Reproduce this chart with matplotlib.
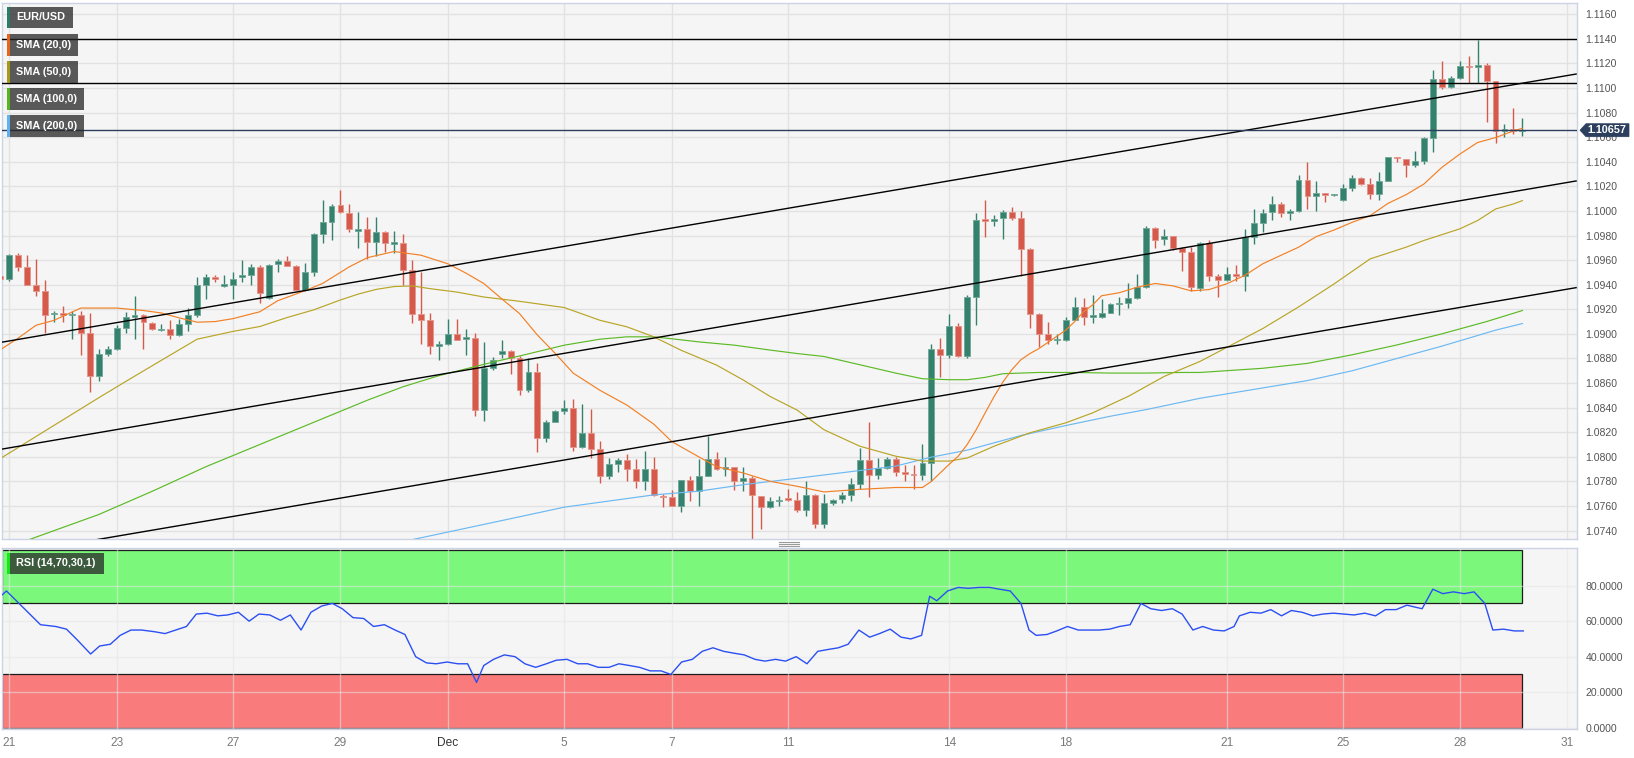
import numpy as np
import matplotlib
matplotlib.use("Agg")
import matplotlib.pyplot as plt
from matplotlib.patches import Rectangle, Polygon
from matplotlib.lines import Line2D
import matplotlib.transforms as mtransforms

plt.rcParams['font.family'] = ['Liberation Sans', 'DejaVu Sans']

W, H = 1634, 758

# ---------------- data (EUR/USD, 4h candles) ----------------
first_idx = -1
opens = [1.0947, 1.0945, 1.0964, 1.0954, 1.0940, 1.0935, 1.0916, 1.0917, 1.0915, 1.0915,
         1.0901, 1.0866, 1.0884, 1.0888, 1.0905, 1.0914, 1.0915, 1.0909, 1.0903, 1.0904,
         1.0899, 1.0908, 1.0915, 1.0940, 1.0946, 1.0939, 1.0940, 1.0946, 1.0948, 1.0954,
         1.0929, 1.0957, 1.0959, 1.0955, 1.0936, 1.0950, 1.0981, 1.0991, 1.1005, 1.0998,
         1.0984, 1.0985, 1.0975, 1.0983, 1.0973, 1.0974, 1.0952, 1.0916, 1.0911, 1.0890,
         1.0892, 1.0900, 1.0896, 1.0897, 1.0838, 1.0872, 1.0884, 1.0886, 1.0880, 1.0854,
         1.0869, 1.0815, 1.0828, 1.0837, 1.0840, 1.0808, 1.0819, 1.0806, 1.0784, 1.0794,
         1.0797, 1.0790, 1.0780, 1.0790, 1.0768, 1.0767, 1.0760, 1.0781, 1.0772, 1.0784,
         1.0798, 1.0790, 1.0792, 1.0780, 1.0783, 1.0768, 1.0759, 1.0764, 1.0766, 1.0765,
         1.0757, 1.0769, 1.0745, 1.0762, 1.0766, 1.0769, 1.0778, 1.0797, 1.0785, 1.0791,
         1.0798, 1.0788, 1.0786, 1.0785, 1.0795, 1.0888, 1.0883, 1.0906, 1.0882, 1.0930,
         1.0993, 1.0992, 1.0994, 1.0999, 1.0994, 1.0969, 1.0916, 1.0900, 1.0895, 1.0895,
         1.0911, 1.0922, 1.0914, 1.0914, 1.0917, 1.0924, 1.0925, 1.0929, 1.0938, 1.0986,
         1.0977, 1.0980, 1.0970, 1.0967, 1.0937, 1.0974, 1.0947, 1.0944, 1.0949, 1.0947,
         1.0979, 1.0990, 1.0999, 1.1006, 1.0998, 1.1000, 1.1025, 1.1012, 1.1015, 1.1013,
         1.1009, 1.1019, 1.1027, 1.1022, 1.1014, 1.1024, 1.1044, 1.1042, 1.1037, 1.1041,
         1.1059, 1.1107, 1.1101, 1.1108, 1.1118, 1.1117, 1.1119, 1.1106, 1.1065, 1.1067, 1.1065]
highs = [1.0948, 1.0965, 1.0966, 1.0964, 1.0961, 1.0944, 1.0919, 1.0923, 1.0919, 1.0919,
         1.0917, 1.0888, 1.0890, 1.0907, 1.0918, 1.0931, 1.0916, 1.0910, 1.0908, 1.0911,
         1.0912, 1.0921, 1.0946, 1.0949, 1.0948, 1.0948, 1.0950, 1.0960, 1.0957, 1.0956,
         1.0957, 1.0961, 1.0963, 1.0956, 1.0958, 1.0982, 1.1009, 1.1006, 1.1017, 1.1006,
         1.0999, 1.0995, 1.0995, 1.0984, 1.0984, 1.0981, 1.0960, 1.0950, 1.0917, 1.0894,
         1.0912, 1.0912, 1.0904, 1.0901, 1.0893, 1.0881, 1.0895, 1.0887, 1.0882, 1.0880,
         1.0876, 1.0830, 1.0838, 1.0846, 1.0847, 1.0843, 1.0839, 1.0813, 1.0799, 1.0799,
         1.0802, 1.0798, 1.0805, 1.0800, 1.0770, 1.0773, 1.0781, 1.0784, 1.0798, 1.0817,
         1.0804, 1.0800, 1.0792, 1.0792, 1.0784, 1.0768, 1.0767, 1.0768, 1.0774, 1.0771,
         1.0780, 1.0770, 1.0770, 1.0766, 1.0771, 1.0783, 1.0807, 1.0828, 1.0799, 1.0800,
         1.0800, 1.0793, 1.0793, 1.0810, 1.0892, 1.0897, 1.0916, 1.0909, 1.0932, 1.0998,
         1.1009, 1.0997, 1.1001, 1.1003, 1.1000, 1.0970, 1.0917, 1.0910, 1.0900, 1.0914,
         1.0930, 1.0929, 1.0932, 1.0928, 1.0925, 1.0930, 1.0941, 1.0949, 1.0988, 1.0987,
         1.0985, 1.0980, 1.0971, 1.0971, 1.0975, 1.0976, 1.0949, 1.0954, 1.0956, 1.0985,
         1.1002, 1.1002, 1.1012, 1.1007, 1.1002, 1.1029, 1.1040, 1.1024, 1.1015, 1.1014,
         1.1022, 1.1029, 1.1028, 1.1027, 1.1032, 1.1044, 1.1044, 1.1042, 1.1049, 1.1060,
         1.1115, 1.1122, 1.1110, 1.1122, 1.1126, 1.1139, 1.1120, 1.1106, 1.1071, 1.1084, 1.1076]
lows = [1.0939, 1.0943, 1.0951, 1.0940, 1.0931, 1.0901, 1.0910, 1.0910, 1.0896, 1.0883,
        1.0853, 1.0862, 1.0882, 1.0887, 1.0901, 1.0896, 1.0888, 1.0903, 1.0902, 1.0896,
        1.0898, 1.0902, 1.0914, 1.0928, 1.0942, 1.0938, 1.0928, 1.0942, 1.0940, 1.0925,
        1.0928, 1.0950, 1.0955, 1.0936, 1.0935, 1.0947, 1.0974, 1.0976, 1.0998, 1.0983,
        1.0970, 1.0961, 1.0963, 1.0967, 1.0966, 1.0940, 1.0909, 1.0892, 1.0884, 1.0879,
        1.0891, 1.0895, 1.0883, 1.0833, 1.0829, 1.0871, 1.0880, 1.0867, 1.0850, 1.0853,
        1.0804, 1.0812, 1.0828, 1.0835, 1.0805, 1.0807, 1.0799, 1.0779, 1.0782, 1.0788,
        1.0780, 1.0775, 1.0773, 1.0768, 1.0759, 1.0760, 1.0755, 1.0764, 1.0760, 1.0784,
        1.0789, 1.0784, 1.0773, 1.0772, 1.0723, 1.0741, 1.0758, 1.0760, 1.0764, 1.0755,
        1.0752, 1.0742, 1.0742, 1.0761, 1.0762, 1.0764, 1.0774, 1.0767, 1.0782, 1.0790,
        1.0784, 1.0780, 1.0774, 1.0781, 1.0780, 1.0865, 1.0880, 1.0881, 1.0880, 1.0907,
        1.0979, 1.0988, 1.0977, 1.0993, 1.0947, 1.0905, 1.0889, 1.0892, 1.0892, 1.0894,
        1.0911, 1.0907, 1.0909, 1.0913, 1.0917, 1.0915, 1.0921, 1.0928, 1.0937, 1.0970,
        1.0972, 1.0968, 1.0951, 1.0935, 1.0935, 1.0943, 1.0930, 1.0943, 1.0943, 1.0935,
        1.0973, 1.0983, 1.0993, 1.0995, 1.0993, 1.0999, 1.1002, 1.1000, 1.1007, 1.1012,
        1.1008, 1.1016, 1.1021, 1.1010, 1.1009, 1.1024, 1.1040, 1.1028, 1.1036, 1.1038,
        1.1048, 1.1099, 1.1100, 1.1107, 1.1104, 1.1104, 1.1072, 1.1055, 1.1060, 1.1063, 1.1061]
closes = [1.0945, 1.0964, 1.0954, 1.0940, 1.0935, 1.0915, 1.0917, 1.0915, 1.0916, 1.0901,
          1.0866, 1.0884, 1.0888, 1.0905, 1.0914, 1.0915, 1.0910, 1.0904, 1.0904, 1.0899,
          1.0908, 1.0915, 1.0940, 1.0946, 1.0945, 1.0940, 1.0945, 1.0948, 1.0954, 1.0933,
          1.0956, 1.0959, 1.0955, 1.0936, 1.0950, 1.0981, 1.0991, 1.1004, 1.0999, 1.0985,
          1.0985, 1.0975, 1.0983, 1.0974, 1.0975, 1.0952, 1.0916, 1.0911, 1.0890, 1.0892,
          1.0900, 1.0895, 1.0897, 1.0838, 1.0872, 1.0879, 1.0886, 1.0880, 1.0854, 1.0869,
          1.0815, 1.0828, 1.0837, 1.0840, 1.0808, 1.0819, 1.0806, 1.0784, 1.0794, 1.0797,
          1.0790, 1.0780, 1.0790, 1.0769, 1.0767, 1.0760, 1.0781, 1.0772, 1.0784, 1.0798,
          1.0790, 1.0792, 1.0780, 1.0783, 1.0769, 1.0759, 1.0764, 1.0765, 1.0765, 1.0757,
          1.0769, 1.0745, 1.0762, 1.0765, 1.0769, 1.0778, 1.0797, 1.0785, 1.0791, 1.0798,
          1.0788, 1.0786, 1.0785, 1.0795, 1.0888, 1.0883, 1.0906, 1.0882, 1.0930, 1.0993,
          1.0992, 1.0993, 1.0999, 1.0994, 1.0969, 1.0916, 1.0900, 1.0895, 1.0896, 1.0911,
          1.0922, 1.0914, 1.0915, 1.0917, 1.0924, 1.0925, 1.0929, 1.0938, 1.0986, 1.0976,
          1.0980, 1.0970, 1.0967, 1.0938, 1.0974, 1.0947, 1.0944, 1.0949, 1.0947, 1.0979,
          1.0990, 1.0998, 1.1006, 1.0998, 1.1000, 1.1025, 1.1012, 1.1015, 1.1013, 1.1013,
          1.1019, 1.1027, 1.1022, 1.1014, 1.1024, 1.1044, 1.1043, 1.1037, 1.1041, 1.1059,
          1.1107, 1.1101, 1.1108, 1.1118, 1.1117, 1.1119, 1.1106, 1.1065, 1.1067, 1.1065, 1.10657]

tick_idx = [0, 12, 25, 37, 49, 62, 74, 87, 105, 118, 136, 149, 162, 174]
tick_labels = ["21", "23", "27", "29", "Dec", "5", "7", "11", "14", "18", "21", "25", "28", "31"]

sma20_idx = [-1, 1, 3, 5, 8, 12, 15, 17, 19, 21, 23, 25, 28, 30, 33, 35, 38, 40, 43, 46,
             49, 51, 53, 55, 57, 59, 61, 63, 66, 69, 72, 74, 77, 79, 82, 85, 88, 91, 95, 99,
             102, 103, 104, 105, 106, 107, 108, 109, 110, 111, 112, 113, 114, 115, 116, 117,
             118, 119, 120, 121, 122, 124, 126, 128, 130, 132, 134, 136, 138, 140, 142, 144,
             146, 148, 150, 152, 154, 156, 158, 160, 162, 164, 166, 168, 169]
sma20_val = [1.08870, 1.08965, 1.09070, 1.09110, 1.09210, 1.09210, 1.09190, 1.09170, 1.09130, 1.09095,
             1.09100, 1.09124, 1.09180, 1.09270, 1.09350, 1.09410, 1.09546, 1.09620, 1.09670, 1.09640,
             1.09570, 1.09495, 1.09410, 1.09286, 1.09165, 1.08990, 1.08840, 1.08680, 1.08540, 1.08420,
             1.08265, 1.08124, 1.08000, 1.07920, 1.07868, 1.07800, 1.07760, 1.07714, 1.07735, 1.07750,
             1.07750, 1.07800, 1.07870, 1.07940, 1.08005, 1.08100, 1.08220, 1.08357, 1.08490, 1.08610,
             1.08710, 1.08790, 1.08840, 1.08880, 1.08930, 1.08980, 1.09030, 1.09100, 1.09180, 1.09235,
             1.09310, 1.09335, 1.09380, 1.09410, 1.09390, 1.09350, 1.09360, 1.09408, 1.09476, 1.09570,
             1.09638, 1.09705, 1.09792, 1.09846, 1.09908, 1.09962, 1.10062, 1.10132, 1.10219, 1.10354,
             1.10462, 1.10557, 1.10597, 1.10651, 1.10673]

sma50_idx = [-1, 10, 13, 17, 21, 25, 28, 31, 34, 37, 39, 41, 43, 45, 47, 50, 53, 57, 62, 66,
             69, 72, 75, 79, 82, 85, 88, 91, 95, 99, 102, 105, 107, 110, 114, 118, 121, 125, 129, 133,
             140, 144, 148, 152, 156, 158, 162, 164, 166, 168, 169]
sma50_val = [1.07985, 1.08480, 1.08612, 1.08785, 1.08957, 1.09020, 1.09060, 1.09132, 1.09195, 1.09276,
             1.09324, 1.09362, 1.09385, 1.09390, 1.09368, 1.09340, 1.09300, 1.09265, 1.09214, 1.09110,
             1.09057, 1.08976, 1.08868, 1.08746, 1.08624, 1.08490, 1.08380, 1.08220, 1.08086, 1.08005,
             1.07965, 1.07965, 1.07990, 1.08086, 1.08195, 1.08276, 1.08357, 1.08492, 1.08654, 1.08776,
             1.09043, 1.09219, 1.09408, 1.09610, 1.09705, 1.09760, 1.09854, 1.09922, 1.10016, 1.10057,
             1.10084]

sma100_idx = [2, 10, 16, 22, 28, 34, 40, 44, 48, 54, 57, 62, 66, 69, 72, 74, 77, 81, 85, 88,
              91, 95, 99, 102, 105, 107, 109, 111, 115, 119, 123, 127, 131, 133, 140, 145, 150, 155,
              160, 165, 169]
sma100_val = [1.07320, 1.07530, 1.07720, 1.07920, 1.08100, 1.08280, 1.08460, 1.08570, 1.08660, 1.08770,
              1.08820, 1.08908, 1.08957, 1.08976, 1.08976, 1.08960, 1.08935, 1.08908, 1.08868, 1.08840,
              1.08816, 1.08749, 1.08681, 1.08635, 1.08627, 1.08627, 1.08646, 1.08676, 1.08686, 1.08686,
              1.08681, 1.08681, 1.08686, 1.08686, 1.08720, 1.08760, 1.08830, 1.08910, 1.09000, 1.09100,
              1.09190]

sma200_idx = [44, 54, 62, 72, 77, 82, 88, 99, 103, 107, 113, 118, 123, 127, 133, 140, 145, 150,
              155, 160, 166, 169]
sma200_val = [1.07310, 1.07465, 1.07590, 1.07690, 1.07720, 1.07773, 1.07825, 1.07924, 1.07997, 1.08054,
              1.08173, 1.08254, 1.08330, 1.08384, 1.08476, 1.08560, 1.08620, 1.08700, 1.08800, 1.08900,
              1.09030, 1.09084]

channel_idx = [-1, 175]
channel_top = [1.08930, 1.11114]
channel_mid = [1.08060, 1.10244]
channel_bot = [1.07192, 1.09376]
level_lines = [1.1140, 1.1104]
last_price = 1.10657

rsi_idx = [-1.2, -0.3, 1.1, 2.3, 3.5, 5.2, 6.4, 7.5, 9.1, 10.1, 11.3, 12.4, 13.6, 14.8, 16.3, 17.4,
           18.6, 19.8, 20.9, 22.1, 23.3, 24.4, 25.6, 26.8, 27.9, 29.1, 30.3, 31.4, 32.6, 33.7, 34.9,
           36.1, 37.2, 38.4, 39.6, 40.7, 41.9, 43.1, 44.2, 45.4, 46.6, 47.7, 48.9, 50.1, 51.2, 52.2,
           53.0, 54.1, 55.3, 56.5, 57.6, 58.8, 60.0, 61.1, 62.3, 63.5, 64.6, 65.8, 67.0, 68.1, 69.3,
           70.4, 71.6, 72.8, 73.9, 75.1, 76.3, 77.4, 78.6, 79.8, 80.9, 82.1, 83.3, 84.4, 85.6, 86.7,
           87.9, 89.1, 90.3, 91.4, 92.6, 93.7, 94.9, 96.1, 97.2, 98.4, 99.6, 100.7, 101.9, 102.8,
           103.6, 104.8, 106.0, 107.1, 108.3, 109.5, 110.6, 111.8, 113.0, 113.9, 114.7, 115.9, 117.0,
           118.2, 119.4, 120.5, 121.7, 122.9, 124.0, 125.2, 126.4, 127.5, 128.7, 129.9, 131.0, 132.2,
           133.3, 134.5, 135.7, 136.8, 137.4, 138.6, 139.8, 140.9, 142.1, 143.2, 144.4, 145.6, 146.7,
           147.9, 149.1, 150.2, 151.4, 152.6, 153.7, 154.9, 156.1, 157.8, 159.0, 160.1, 161.3, 162.5,
           163.6, 164.8, 165.7, 166.9, 168.1, 169.1]
rsi_val = [73, 77, 70, 64, 58, 57, 55.5, 50, 41.5, 46, 47, 52, 55, 55, 54, 53,
           55, 57, 64, 64.5, 63, 63.5, 65, 60, 64, 63.5, 60.5, 63.5, 55, 65, 68.5,
           70, 67, 62, 61.5, 57, 58, 55, 52.5, 40, 36.5, 36, 37, 36, 36, 25.5,
           35, 38.5, 41, 40, 36, 34, 36, 38, 38.5, 36, 36, 34, 34, 36, 35,
           34, 32, 32, 30, 37, 38.5, 43, 45, 43, 42, 41, 38.5, 37.5, 38.5, 37.5,
           40, 36, 43, 44, 45, 47, 55, 51, 53, 55.5, 51, 50, 52, 74,
           71.5, 77, 79, 78.5, 79, 79, 78, 77, 70, 55, 52, 52.5, 54.5,
           57, 55, 55, 55, 55.5, 57, 58, 70, 67, 66, 67, 64, 55,
           57, 55, 54.5, 57, 63, 65, 64.5, 66.5, 63, 66, 65, 63, 64,
           64.5, 64, 63.5, 64.5, 63, 66.5, 66.5, 69, 67, 78, 75.5, 76.5, 75.5,
           76.5, 70, 55, 55.5, 54.5, 54.5]

# ---------------- figure ----------------
fig = plt.figure(figsize=(W / 100, H / 100), dpi=100, facecolor='white')

def fx(x):
    return x / W

def fy(y):
    return 1 - y / H

ax = fig.add_axes([fx(2), fy(539), (1577 - 2) / W, (539 - 3) / H])
axr = fig.add_axes([fx(2), fy(729), (1577 - 2) / W, (729 - 548) / H])

idx = np.arange(first_idx, first_idx + len(opens))
o = np.array(opens); h = np.array(highs); l = np.array(lows); c = np.array(closes)
up = c >= o

GREEN = '#34826e'
GREEN_E = '#6fa796'
RED = '#d65a4b'
RED_E = '#e4948a'
BG = '#f5f5f5'
GRID = '#e2e2e2'
SPINE = '#cbd3e4'
LABEL = '#555555'

for a in (ax, axr):
    a.set_facecolor(BG)
    for s in a.spines.values():
        s.set_color(SPINE)
        s.set_linewidth(1.0)
    a.set_xlim(-0.8, 175.1)
    a.set_xticks(tick_idx)
    a.set_axisbelow(True)
    a.yaxis.tick_right()
    a.tick_params(axis='y', length=0, pad=6, labelsize=7.6, labelcolor=LABEL)
ax.grid(True, color=GRID, lw=1.0, zorder=0)
axr.grid(True, color='#e6e6e6', lw=1.0, alpha=0.55, zorder=0)

# ---- main chart ----
ax.set_ylim(1.07331, 1.11692)
yt = np.round(np.arange(1.0740, 1.11601, 0.0020), 4)
ax.set_yticks(yt)
ax.set_yticklabels([f"{v:.4f}" for v in yt])
ax.tick_params(axis='x', length=0, labelbottom=False)

colors = np.where(up, GREEN, RED)
ecolors = np.where(up, GREEN_E, RED_E)
ax.vlines(idx, l, h, colors=colors, lw=1.0, zorder=2)
body = np.maximum(np.abs(c - o), 0.00012)
ax.bar(idx, body, bottom=np.minimum(o, c), width=0.66, color=colors,
       edgecolor=ecolors, linewidth=0.6, zorder=3)

ax.plot(sma200_idx, sma200_val, color='#6cb9f2', lw=0.85, zorder=4)
ax.plot(sma100_idx, sma100_val, color='#5cba26', lw=0.85, zorder=4)
ax.plot(sma50_idx, sma50_val, color='#b8a527', lw=0.85, zorder=4)
ax.plot(sma20_idx, sma20_val, color='#f28025', lw=0.85, zorder=4)

for ys in (channel_top, channel_mid, channel_bot):
    ax.plot(channel_idx, ys, color='black', lw=1.0, zorder=5)
for lv in level_lines:
    ax.axhline(lv, color='black', lw=1.0, zorder=5)
ax.axhline(last_price, color='#2c3f5e', lw=1.0, zorder=5)

# ---- RSI panel ----
axr.set_ylim(-0.73, 101.2)
axr.set_yticks([0, 20, 40, 60, 80])
axr.set_yticklabels([f"{v:.4f}" for v in [0, 20, 40, 60, 80]])
axr.set_xticklabels(tick_labels)
axr.tick_params(axis='x', length=0, pad=6, labelsize=8.6, labelcolor='#7a7a7a')
for t in axr.get_xticklabels():
    t.set_family(['Liberation Sans Narrow', 'Liberation Sans', 'DejaVu Sans'])
    if t.get_text() == 'Dec':
        t.set_color('#333333')

zone_left = -0.8
zone_right = idx[-1]
axr.add_patch(Rectangle((zone_left, 70), zone_right - zone_left, 30, facecolor='#7bf87b',
                        edgecolor='#1c1c1c', lw=0.9, zorder=-1))
axr.add_patch(Rectangle((zone_left, 0), zone_right - zone_left, 30, facecolor='#f97b7b',
                        edgecolor='#1c1c1c', lw=0.9, zorder=-1))
axr.plot(rsi_idx, rsi_val, color='#2b4ff2', lw=1.0, zorder=3)

# ---- legend boxes ----
def label_box(x0, y0, w, hgt, text, strip):
    fig.add_artist(Rectangle((fx(x0), fy(y0 + hgt)), w / W, hgt / H, transform=fig.transFigure,
                             facecolor='#282828', alpha=0.76, lw=0, zorder=10))
    fig.add_artist(Rectangle((fx(x0), fy(y0 + hgt)), 2.8 / W, hgt / H, transform=fig.transFigure,
                             facecolor=strip, lw=0, zorder=11))
    fig.text(fx(x0 + 9), fy(y0 + hgt / 2), text, color='white', fontsize=7.8, fontweight='bold',
             ha='left', va='center', zorder=12)

label_box(7, 7, 66, 21, 'EUR/USD', '#2a7d68')
label_box(7, 34, 71, 22, 'SMA (20,0)', '#e8641b')
label_box(7, 61, 71, 22, 'SMA (50,0)', '#a7981a')
label_box(7, 88, 77, 22, 'SMA (100,0)', '#57b520')
label_box(7, 115, 77, 22, 'SMA (200,0)', '#5eb2f2')
label_box(7, 553, 97, 21, 'RSI (14,70,30,1)', '#19e619')

# ---- current price tag ----
yd = ax.transData.transform((0, last_price))[1]
xr = ax.transAxes.transform((1, 0))[0]
tag = [(xr + 3, yd), (xr + 9, yd + 6.5), (xr + 52, yd + 6.5), (xr + 52, yd - 6.5), (xr + 9, yd - 6.5)]
fig.add_artist(Polygon(tag, closed=True, transform=mtransforms.IdentityTransform(),
                       facecolor='#2c3f5e', edgecolor='#2c3f5e', lw=0.5, zorder=10))
fig.text((xr + 30) / W, yd / H, f"{last_price:.5f}", color='white', fontsize=7.8,
         fontweight='bold', ha='center', va='center', zorder=12)

# ---- panel grip ----
for gy in (541.5, 543.5, 545.5):
    fig.add_artist(Line2D([fx(779), fx(799)], [fy(gy), fy(gy)], transform=fig.transFigure,
                          color='#9a9a9a', lw=0.8))

fig.savefig('out.png', dpi=100, facecolor='white')
